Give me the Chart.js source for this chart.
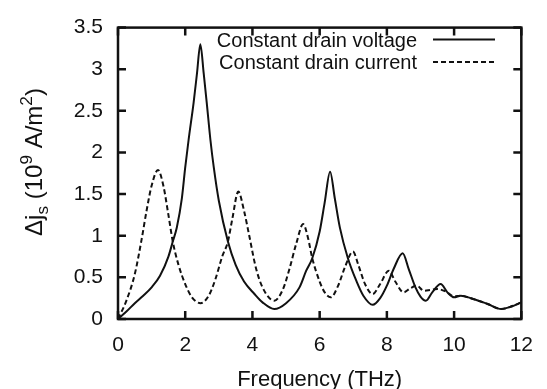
<!DOCTYPE html>
<html>
<head>
<meta charset="utf-8">
<script src="https://cdn.jsdelivr.net/npm/chart.js@4.4.1/dist/chart.umd.min.js"></script>
<style>
  body { margin: 0; background: #fff; }
  #wrap { position: relative; width: 547px; height: 389px; }
</style>
</head>
<body>
<div id="wrap"><canvas id="chart"></canvas></div>
<script>
// values
const seriesLabels = ["Constant drain voltage", "Constant drain current"];

const freqVoltage = [0, 0.25, 0.5, 0.75, 1.0, 1.25, 1.5, 1.63, 1.75, 1.9, 2.0, 2.1, 2.25, 2.35, 2.45,
  2.55, 2.64, 2.75, 2.85, 3.0, 3.27, 3.5, 3.75, 4.06, 4.3, 4.65, 5.0, 5.4, 5.6, 5.78, 6.0, 6.15, 6.31,
  6.45, 6.6, 6.84, 7.1, 7.3, 7.58, 7.8, 8.0, 8.2, 8.47, 8.65, 8.85, 9.0, 9.16, 9.35, 9.6, 9.8, 10.0,
  10.2, 10.5, 11.0, 11.4, 11.7, 12.0];
const jsVoltage = [0, 0.09, 0.19, 0.28, 0.38, 0.52, 0.75, 0.93, 1.1, 1.45, 1.82, 2.15, 2.6, 2.95, 3.3,
  2.95, 2.6, 2.15, 1.82, 1.42, 0.93, 0.65, 0.45, 0.3, 0.2, 0.12, 0.19, 0.38, 0.58, 0.73, 1.05, 1.4, 1.77,
  1.45, 1.1, 0.73, 0.45, 0.28, 0.17, 0.25, 0.4, 0.6, 0.79, 0.6, 0.38, 0.27, 0.22, 0.32, 0.42, 0.32, 0.26,
  0.28, 0.25, 0.18, 0.12, 0.15, 0.2];

const freqCurrent = [0, 0.25, 0.5, 0.7, 0.85, 1.0, 1.19, 1.35, 1.5, 1.63, 1.8, 2.0, 2.2, 2.46, 2.7,
  2.9, 3.1, 3.27, 3.4, 3.58, 3.75, 3.91, 4.1, 4.3, 4.65, 4.9, 5.1, 5.3, 5.51, 5.65, 5.78, 6.0, 6.15,
  6.33, 6.55, 6.75, 6.99, 7.15, 7.35, 7.58, 7.8, 8.06, 8.25, 8.5, 8.7, 8.89, 9.1, 9.3, 9.5, 9.75, 10.0,
  10.2, 10.5, 11.0, 11.4, 11.7, 12.0];
const jsCurrent = [0, 0.22, 0.54, 0.95, 1.3, 1.6, 1.79, 1.6, 1.25, 0.93, 0.65, 0.42, 0.26, 0.19, 0.28,
  0.48, 0.75, 0.93, 1.2, 1.53, 1.3, 0.99, 0.62, 0.38, 0.22, 0.35, 0.6, 0.9, 1.14, 0.98, 0.73, 0.45, 0.32,
  0.26, 0.4, 0.62, 0.81, 0.65, 0.42, 0.3, 0.42, 0.58, 0.45, 0.32, 0.37, 0.4, 0.34, 0.35, 0.36, 0.33, 0.27,
  0.28, 0.25, 0.18, 0.12, 0.15, 0.2];

const xTicks = [0, 2, 4, 6, 8, 10, 12];
const yTicks = [0, 0.5, 1, 1.5, 2, 2.5, 3, 3.5];

const ink = "#111";
const font = "'Liberation Sans', Arial, Helvetica, sans-serif";

const toPoints = (xs, ys) => xs.map((x, i) => ({ x: x, y: ys[i] }));

// frame, inward ticks on all sides, legend and axis titles
const framePlugin = {
  id: "frame",
  afterDraw(chart) {
    const ctx = chart.ctx;
    const a = chart.chartArea;
    const xs = chart.scales.x, ys = chart.scales.y;
    ctx.save();
    ctx.strokeStyle = ink;
    ctx.lineWidth = 2.5;
    ctx.strokeRect(a.left, a.top, a.right - a.left, a.bottom - a.top);
    const tl = 8;
    ctx.beginPath();
    xTicks.forEach(v => {
      const px = xs.getPixelForValue(v);
      ctx.moveTo(px, a.bottom); ctx.lineTo(px, a.bottom - tl);
      ctx.moveTo(px, a.top); ctx.lineTo(px, a.top + tl);
    });
    yTicks.forEach(v => {
      const py = ys.getPixelForValue(v);
      ctx.moveTo(a.left, py); ctx.lineTo(a.left + tl, py);
      ctx.moveTo(a.right, py); ctx.lineTo(a.right - tl, py);
    });
    ctx.stroke();

    // legend
    ctx.font = "20px " + font;
    ctx.fillStyle = ink;
    ctx.textAlign = "right";
    ctx.textBaseline = "alphabetic";
    chart.data.datasets.forEach((ds, i) => {
      const yLine = 39.5 + i * 22.5;
      ctx.fillText(ds.label, 417, yLine + 7);
      ctx.save();
      ctx.lineWidth = 2;
      ctx.setLineDash(ds.borderDash || []);
      ctx.beginPath();
      ctx.moveTo(433, yLine); ctx.lineTo(495, yLine);
      ctx.stroke();
      ctx.restore();
    });

    // x title
    ctx.textAlign = "center";
    ctx.font = "22px " + font;
    ctx.fillText("Frequency (THz)", (a.left + a.right) / 2, 386);

    // y title with sub/superscripts
    const parts = [
      { t: "\u0394j", s: 1, dy: 0 },
      { t: "s", s: 0.72, dy: 6 },
      { t: " (10", s: 1, dy: 0 },
      { t: "9", s: 0.72, dy: -10 },
      { t: " A/m", s: 1, dy: 0 },
      { t: "2", s: 0.72, dy: -10 },
      { t: ")", s: 1, dy: 0 }
    ];
    const fs = 24;
    let total = 0;
    parts.forEach(p => { ctx.font = (fs * p.s) + "px " + font; p.w = ctx.measureText(p.t).width; total += p.w; });
    ctx.translate(42, 162);
    ctx.rotate(-Math.PI / 2);
    ctx.textAlign = "left";
    let cx = -total / 2;
    parts.forEach(p => {
      ctx.font = (fs * p.s) + "px " + font;
      ctx.fillText(p.t, cx, p.dy);
      cx += p.w;
    });
    ctx.restore();
  }
};

new Chart(document.getElementById("chart"), {
  type: "line",
  data: {
    datasets: [
      {
        label: seriesLabels[0],
        data: toPoints(freqVoltage, jsVoltage),
        borderColor: ink,
        borderWidth: 2,
        pointRadius: 0,
        cubicInterpolationMode: "monotone",
        fill: false
      },
      {
        label: seriesLabels[1],
        data: toPoints(freqCurrent, jsCurrent),
        borderColor: ink,
        borderWidth: 2,
        borderDash: [5, 3],
        pointRadius: 0,
        cubicInterpolationMode: "monotone",
        fill: false
      }
    ]
  },
  options: {
    responsive: true,
    maintainAspectRatio: false,
    animation: false,
    layout: { padding: { top: 21, right: 24, bottom: 0, left: 0 } },
    plugins: { legend: { display: false }, tooltip: { enabled: false } },
    scales: {
      x: {
        type: "linear",
        min: 0,
        max: 12,
        afterFit: s => { s.height = 70; },
        afterBuildTicks: s => { s.ticks = xTicks.map(v => ({ value: v })); },
        ticks: { font: { family: font, size: 21 }, color: ink, padding: 14, maxRotation: 0,
          callback: v => String(v) },
        grid: { display: false, drawTicks: false },
        border: { display: false }
      },
      y: {
        min: 0,
        max: 3.5,
        afterFit: s => { s.width = 118; },
        afterBuildTicks: s => { s.ticks = yTicks.map(v => ({ value: v })); },
        ticks: { font: { family: font, size: 21 }, color: ink, padding: 15,
          callback: v => String(v) },
        grid: { display: false, drawTicks: false },
        border: { display: false }
      }
    }
  },
  plugins: [framePlugin]
});
</script>
</body>
</html>
